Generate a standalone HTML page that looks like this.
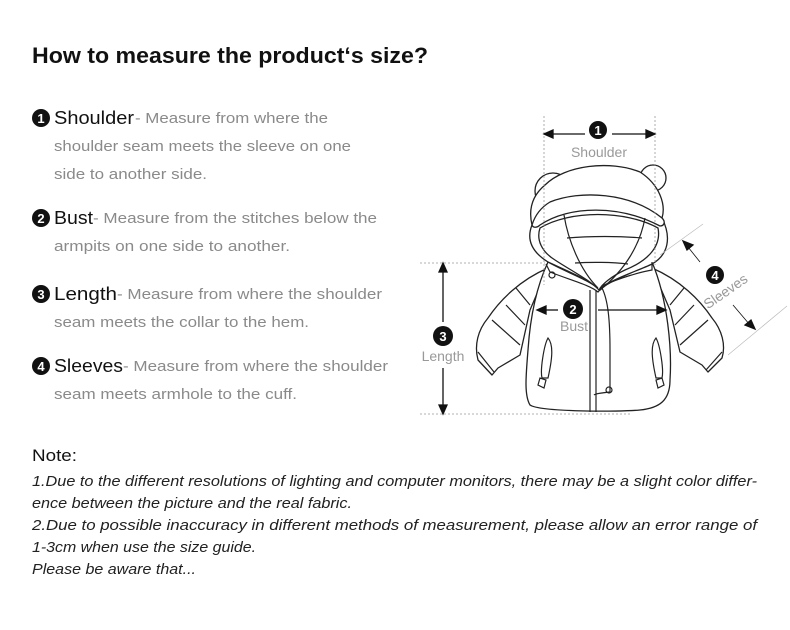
<!DOCTYPE html>
<html><head><meta charset="utf-8"><style>
html,body{margin:0;padding:0;background:#fff}
svg{display:block}
.h{font-family:"Liberation Sans",sans-serif;font-size:18px;fill:#111}
.d{font-family:"Liberation Sans",sans-serif;font-size:15px;fill:#8a8a8a}
.n{font-family:"Liberation Sans",sans-serif;font-size:15px;font-style:italic;fill:#222}
.c{font-family:"Liberation Sans",sans-serif;font-weight:bold;font-size:13px;fill:#fff}
.g{font-family:"Liberation Sans",sans-serif;font-size:14px;fill:#999}
.j{fill:#fff;stroke:#222;stroke-width:1.3;stroke-linejoin:round}
.l{fill:none;stroke:#222;stroke-width:1.2}
</style></head><body>
<svg width="790" height="630" viewBox="0 0 790 630" xmlns="http://www.w3.org/2000/svg">
<text x="32" y="63" font-family="Liberation Sans,sans-serif" font-weight="bold" font-size="22" fill="#111" textLength="396" lengthAdjust="spacingAndGlyphs">How to measure the product‘s size?</text>

<g>
<circle cx="41" cy="118" r="9" fill="#111"/><text class="c" x="41" y="123" text-anchor="middle">1</text>
<text class="h" x="54" y="124" textLength="80" lengthAdjust="spacingAndGlyphs">Shoulder</text>
<text class="d" x="135" y="123" textLength="193" lengthAdjust="spacingAndGlyphs">- Measure from where the</text>
<text class="d" x="54" y="151" textLength="297" lengthAdjust="spacingAndGlyphs">shoulder seam meets the sleeve on one</text>
<text class="d" x="54" y="179" textLength="153" lengthAdjust="spacingAndGlyphs">side to another side.</text>

<circle cx="41" cy="218" r="9" fill="#111"/><text class="c" x="41" y="223" text-anchor="middle">2</text>
<text class="h" x="54" y="224" textLength="39" lengthAdjust="spacingAndGlyphs">Bust</text>
<text class="d" x="93" y="223" textLength="284" lengthAdjust="spacingAndGlyphs">- Measure from the stitches below the</text>
<text class="d" x="54" y="251" textLength="236" lengthAdjust="spacingAndGlyphs">armpits on one side to another.</text>

<circle cx="41" cy="294" r="9" fill="#111"/><text class="c" x="41" y="299" text-anchor="middle">3</text>
<text class="h" x="54" y="300" textLength="63" lengthAdjust="spacingAndGlyphs">Length</text>
<text class="d" x="117" y="299" textLength="265" lengthAdjust="spacingAndGlyphs">- Measure from where the shoulder</text>
<text class="d" x="54" y="327" textLength="255" lengthAdjust="spacingAndGlyphs">seam meets the collar to the hem.</text>

<circle cx="41" cy="366" r="9" fill="#111"/><text class="c" x="41" y="371" text-anchor="middle">4</text>
<text class="h" x="54" y="372" textLength="69" lengthAdjust="spacingAndGlyphs">Sleeves</text>
<text class="d" x="123" y="371" textLength="265" lengthAdjust="spacingAndGlyphs">- Measure from where the shoulder</text>
<text class="d" x="54" y="399" textLength="243" lengthAdjust="spacingAndGlyphs">seam meets armhole to the cuff.</text>
</g>

<text x="32" y="461" font-family="Liberation Sans,sans-serif" font-size="17" fill="#111" textLength="45" lengthAdjust="spacingAndGlyphs">Note:</text>
<text class="n" x="32" y="486" textLength="725" lengthAdjust="spacingAndGlyphs">1.Due to the different resolutions of lighting and computer monitors, there may be a slight color differ-</text>
<text class="n" x="32" y="508" textLength="320" lengthAdjust="spacingAndGlyphs">ence between the picture and the real fabric.</text>
<text class="n" x="32" y="530" textLength="725" lengthAdjust="spacingAndGlyphs">2.Due to possible inaccuracy in different methods of measurement, please allow an error range of</text>
<text class="n" x="32" y="552" textLength="224" lengthAdjust="spacingAndGlyphs">1-3cm when use the size guide.</text>
<text class="n" x="32" y="574" textLength="164" lengthAdjust="spacingAndGlyphs">Please be aware that...</text>

<!-- jacket -->
<g>
<path class="j" d="M548 268 C520 280 500 300 488 318 C478 330 474 345 478 360 L492 375 L498 368 L520 355 L530 310 Z"/>
<path class="j" d="M652 268 C680 280 700 300 712 318 C722 330 726 345 722 358 L708 372 L702 365 L680 352 L670 310 Z"/>
<path class="l" d="M478 352 L494 372 M722 352 L706 370 M516 288 L530 305 M506 305 L525 325 M492 320 L520 345 M684 288 L670 305 M694 305 L675 325 M708 320 L680 345"/>
<path class="j" d="M548 262 C535 290 530 320 528 350 C526 375 524 395 530 405 C540 412 620 412 640 410 C660 408 670 400 670 380 C672 350 668 300 652 262 C630 275 610 280 600 290 C590 280 565 272 548 262 Z"/>
<circle class="j" cx="553" cy="191" r="18"/>
<path class="l" d="M546 207 L546 190 C546 182 556 180 560 186"/>
<circle class="j" cx="653" cy="178" r="13"/>
<path class="j" d="M532 225 C528 208 533 195 545 185 C565 165 610 160 640 172 C660 185 666 205 662 218 C672 238 668 255 652 264 C640 270 620 276 605 285 L600 290 C590 280 565 270 548 262 C532 252 526 240 532 225 Z"/>
<path class="j" d="M532 225 C536 212 545 205 550 202 C580 190 630 192 662 218 C666 222 664 226 660 226 C620 205 570 205 540 225 C537 228 533 228 532 225 Z"/>
<path class="j" d="M540 228 C570 210 625 210 658 228 C662 248 645 262 625 270 C612 276 602 284 599 290 C590 280 570 270 555 260 C542 252 536 240 540 228 Z"/>
<path class="l" d="M564 215 C568 240 580 270 598 288 M645 218 C640 245 625 270 600 290 M567 238 C590 236 620 236 642 238 M575 263 C590 262 612 262 628 264"/>
<path class="l" d="M546 264 L550 272 C570 280 590 285 598 292 L604 285 C620 278 640 272 652 270 L652 262"/>
<circle cx="552" cy="275" r="3" class="l"/>
<path class="l" d="M590 290 L590 412 M596 290 L596 412 M602 288 C608 300 610 320 610 350 L610 392 C600 393 595 394 594 395"/>
<circle cx="609" cy="390" r="3" class="l"/>
<path class="l" d="M548 338 C544 345 540 370 542 378 L548 378 C552 360 554 345 548 338 Z M656 338 C660 345 664 370 662 378 L656 378 C652 360 650 345 656 338 Z"/>
<path class="l" d="M538 385 L540 378 L546 380 L544 388 Z M664 385 L662 378 L656 380 L658 388 Z"/>
</g>

<g stroke="#999" stroke-width="0.8" stroke-dasharray="2,2" fill="none">
<line x1="544" y1="116" x2="544" y2="285"/>
<line x1="655" y1="116" x2="655" y2="265"/>
<line x1="420" y1="263" x2="545" y2="263"/>
<line x1="420" y1="414" x2="630" y2="414"/>
</g>
<g stroke="#bbb" stroke-width="0.7" fill="none">
<line x1="660" y1="255" x2="703" y2="224"/>
<line x1="728" y1="355" x2="787" y2="306"/>
</g>
<g stroke="#111" stroke-width="1.3" fill="#111">
<line x1="550" y1="134" x2="585" y2="134"/><line x1="612" y1="134" x2="648" y2="134"/>
<path d="M544 134 L553 130 L553 138 Z"/><path d="M655 134 L646 130 L646 138 Z"/>
<line x1="443" y1="270" x2="443" y2="322"/><line x1="443" y1="368" x2="443" y2="408"/>
<path d="M443 263 L439 272 L447 272 Z"/><path d="M443 414 L439 405 L447 405 Z"/>
<line x1="543" y1="310" x2="558" y2="310"/><line x1="598" y1="310" x2="660" y2="310"/>
<path d="M537 310 L546 306 L546 314 Z"/><path d="M666 310 L657 306 L657 314 Z"/>
<line x1="688" y1="247" x2="700" y2="262" stroke-width="0.8"/><line x1="733" y1="305" x2="750" y2="325" stroke-width="0.8"/>
<path d="M683 241 L693 245 L687 250 Z"/><path d="M755 329 L745 325 L751 320 Z"/>
</g>
<circle cx="598" cy="130" r="9" fill="#111"/><text class="c" x="598" y="135" text-anchor="middle">1</text>
<circle cx="573" cy="309" r="10" fill="#111"/><text class="c" x="573" y="314" text-anchor="middle">2</text>
<circle cx="443" cy="336" r="10" fill="#111"/><text class="c" x="443" y="341" text-anchor="middle">3</text>
<circle cx="715" cy="275" r="9" fill="#111"/><text class="c" x="715" y="280" text-anchor="middle">4</text>
<text class="g" x="599" y="157" text-anchor="middle">Shoulder</text>
<text class="g" x="574" y="331" text-anchor="middle">Bust</text>
<text class="g" x="443" y="361" text-anchor="middle">Length</text>
<text class="g" x="726" y="296" text-anchor="middle" transform="rotate(-35 726 292)">Sleeves</text>
</svg>
</body></html>
